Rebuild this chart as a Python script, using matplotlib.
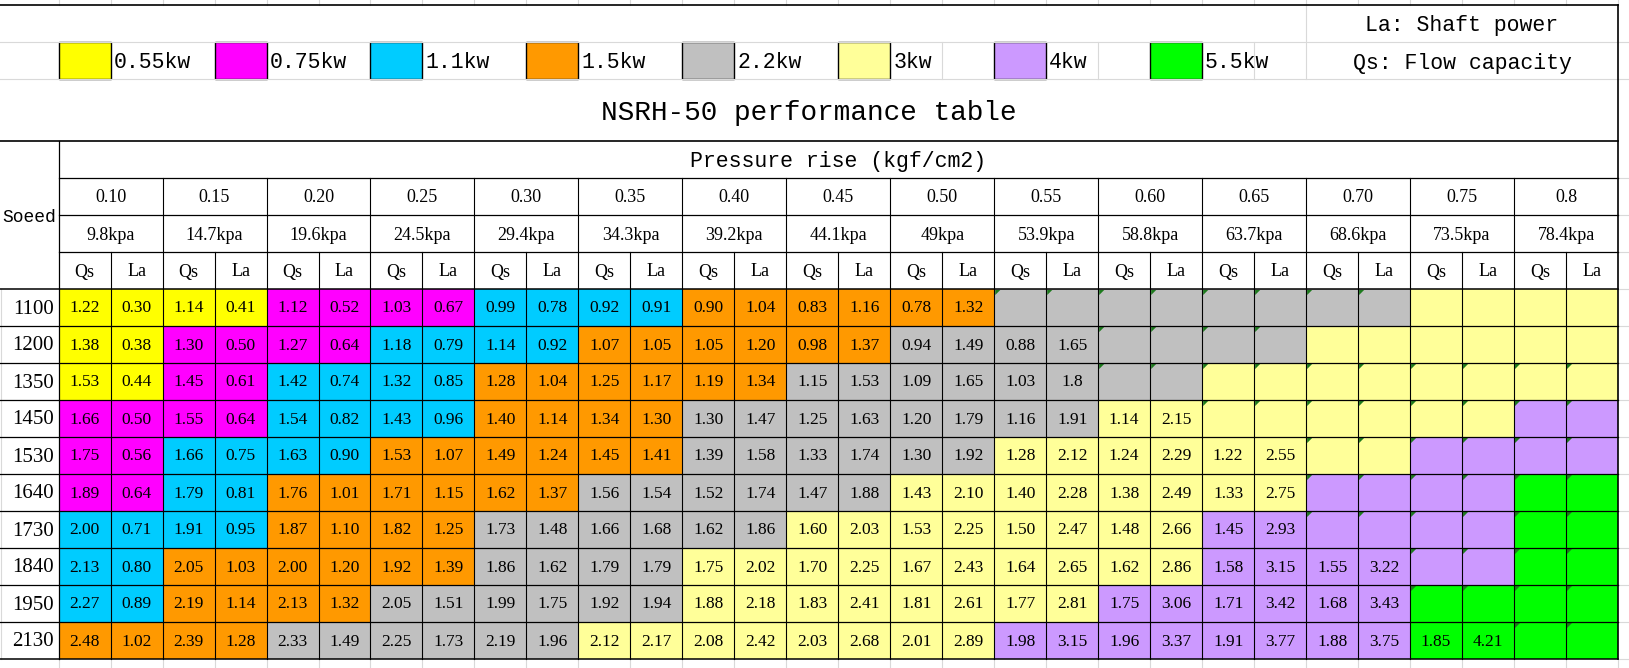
import numpy as np
import matplotlib
matplotlib.use("Agg")
import matplotlib.pyplot as plt
from matplotlib.patches import Rectangle, Polygon

pressures = ["0.10", "0.15", "0.20", "0.25", "0.30", "0.35", "0.40", "0.45",
             "0.50", "0.55", "0.60", "0.65", "0.70", "0.75", "0.8"]
kpa = ["9.8kpa", "14.7kpa", "19.6kpa", "24.5kpa", "29.4kpa", "34.3kpa", "39.2kpa",
       "44.1kpa", "49kpa", "53.9kpa", "58.8kpa", "63.7kpa", "68.6kpa", "73.5kpa", "78.4kpa"]
speeds = ["1100", "1200", "1350", "1450", "1530", "1640", "1730", "1840", "1950", "2130"]

# motor size for each (speed, pressure) pair
power_codes = [
    "YYMMCCOOOGGGGLL",
    "YMMCCOOOGGGGLLL",
    "YMCCOOOGGGGLLLL",
    "MMCCOOGGGGLLLLP",
    "MCCOOOGGGLLLLPP",
    "MCOOOGGGLLLLPPN",
    "CCOOGGGLLLLPPPN",
    "COOOGGLLLLLPPPN",
    "COOGGGLLLLPPPNN",
    "OOGGGLLLLPPPPNN",
]

qs = [
    ["1.22", "1.14", "1.12", "1.03", "0.99", "0.92", "0.90", "0.83", "0.78"],
    ["1.38", "1.30", "1.27", "1.18", "1.14", "1.07", "1.05", "0.98", "0.94", "0.88"],
    ["1.53", "1.45", "1.42", "1.32", "1.28", "1.25", "1.19", "1.15", "1.09", "1.03"],
    ["1.66", "1.55", "1.54", "1.43", "1.40", "1.34", "1.30", "1.25", "1.20", "1.16", "1.14"],
    ["1.75", "1.66", "1.63", "1.53", "1.49", "1.45", "1.39", "1.33", "1.30", "1.28", "1.24", "1.22"],
    ["1.89", "1.79", "1.76", "1.71", "1.62", "1.56", "1.52", "1.47", "1.43", "1.40", "1.38", "1.33"],
    ["2.00", "1.91", "1.87", "1.82", "1.73", "1.66", "1.62", "1.60", "1.53", "1.50", "1.48", "1.45"],
    ["2.13", "2.05", "2.00", "1.92", "1.86", "1.79", "1.75", "1.70", "1.67", "1.64", "1.62", "1.58", "1.55"],
    ["2.27", "2.19", "2.13", "2.05", "1.99", "1.92", "1.88", "1.83", "1.81", "1.77", "1.75", "1.71", "1.68"],
    ["2.48", "2.39", "2.33", "2.25", "2.19", "2.12", "2.08", "2.03", "2.01", "1.98", "1.96", "1.91", "1.88", "1.85"],
]
la = [
    ["0.30", "0.41", "0.52", "0.67", "0.78", "0.91", "1.04", "1.16", "1.32"],
    ["0.38", "0.50", "0.64", "0.79", "0.92", "1.05", "1.20", "1.37", "1.49", "1.65"],
    ["0.44", "0.61", "0.74", "0.85", "1.04", "1.17", "1.34", "1.53", "1.65", "1.8"],
    ["0.50", "0.64", "0.82", "0.96", "1.14", "1.30", "1.47", "1.63", "1.79", "1.91", "2.15"],
    ["0.56", "0.75", "0.90", "1.07", "1.24", "1.41", "1.58", "1.74", "1.92", "2.12", "2.29", "2.55"],
    ["0.64", "0.81", "1.01", "1.15", "1.37", "1.54", "1.74", "1.88", "2.10", "2.28", "2.49", "2.75"],
    ["0.71", "0.95", "1.10", "1.25", "1.48", "1.68", "1.86", "2.03", "2.25", "2.47", "2.66", "2.93"],
    ["0.80", "1.03", "1.20", "1.39", "1.62", "1.79", "2.02", "2.25", "2.43", "2.65", "2.86", "3.15", "3.22"],
    ["0.89", "1.14", "1.32", "1.51", "1.75", "1.94", "2.18", "2.41", "2.61", "2.81", "3.06", "3.42", "3.43"],
    ["1.02", "1.28", "1.49", "1.73", "1.96", "2.17", "2.42", "2.68", "2.89", "3.15", "3.37", "3.77", "3.75", "4.21"],
]

legend_codes = ["Y", "M", "C", "O", "G", "L", "P", "N"]
legend_labels = ["0.55kw", "0.75kw", "1.1kw", "1.5kw", "2.2kw", "3kw", "4kw", "5.5kw"]
fill = {"Y": "#FFFF00", "M": "#FF00FF", "C": "#00CCFF", "O": "#FF9900",
        "G": "#C0C0C0", "L": "#FFFF99", "P": "#CC99FF", "N": "#00FF00"}

# ---- layout (pixels) ----
W, H = 1629, 668
x0, x1 = 58.6, 1618
ncol = 2 * len(pressures)
cw = (x1 - x0) / ncol
y_top, y_leg0, y_leg1, y_title, y_pr, y_p, y_k, y_data = 5, 42, 79, 141, 178, 215, 252, 289
rh = 37
y_end = y_data + rh * len(speeds)

mono = "Liberation Mono"
serif = "Liberation Serif"

fig = plt.figure(figsize=(W / 100, H / 100), dpi=100)
ax = fig.add_axes([0, 0, 1, 1])
ax.set_xlim(0, W)
ax.set_ylim(H, 0)
ax.axis("off")

faint = "#D9D9D9"
edges = x0 + cw * np.arange(ncol + 1)
# excel gridline stubs outside the table
for xe in edges:
    ax.plot([xe, xe], [0, y_top], color=faint, lw=0.8)
    ax.plot([xe, xe], [y_end, H], color=faint, lw=0.8)
for ye in [y_leg0, y_leg1] + [y_data + rh * i for i in range(len(speeds) + 1)] + [y_pr, y_p, y_k]:
    ax.plot([x1, W], [ye, ye], color=faint, lw=0.8)
ax.plot([0, x1], [y_leg0, y_leg0], color=faint, lw=0.8)
ax.plot([0, x1], [y_leg1, y_leg1], color=faint, lw=0.8)
ax.plot([1, 1], [y_data, y_end], color=faint, lw=0.8)
x_note = x0 + cw * 24
ax.plot([x_note, x_note], [y_top, y_leg1], color=faint, lw=0.8)
for k in [17, 20, 23]:
    ax.plot([edges[k], edges[k]], [y_leg0, y_leg1], color=faint, lw=0.8)

# legend
for i, (code, lab) in enumerate(zip(legend_codes, legend_labels)):
    bx = x0 + cw * 3 * i
    ax.add_patch(Rectangle((bx, y_leg0), cw, y_leg1 - y_leg0, facecolor=fill[code],
                           edgecolor="black", lw=1.0))
    ax.text(bx + cw + 3, 63, lab, fontsize=15.5, family=mono, ha="left", va="center")

ax.text((x_note + x1) / 2, 26, "La: Shaft power", fontsize=15.5, family=mono, ha="center", va="center")
ax.text((x_note + x1) / 2, 64, "Qs: Flow capacity", fontsize=15.5, family=mono, ha="center", va="center")
ax.text(x1 / 2, 113, "NSRH-50 performance table", fontsize=20, family=mono, ha="center", va="center")

# header
ax.text((x0 + x1) / 2, 162, "Pressure rise (kgf/cm2)", fontsize=15.5, family=mono, ha="center", va="center")
ax.text(29.5, 217, "Soeed", fontsize=13, family=mono, ha="center", va="center")
for j, (p, k) in enumerate(zip(pressures, kpa)):
    cx = x0 + cw * (2 * j + 1)
    ax.text(cx, 198, p, fontsize=13, family=serif, ha="center", va="center")
    ax.text(cx, 235, k, fontsize=13, family=serif, ha="center", va="center")
    ax.text(cx - cw / 2, 272, "Qs", fontsize=13, family=serif, ha="center", va="center")
    ax.text(cx + cw / 2, 272, "La", fontsize=13, family=serif, ha="center", va="center")

# data cells
for r, spd in enumerate(speeds):
    yt = y_data + rh * r
    ax.text(54, yt + rh / 2 + 1.5, spd, fontsize=15, family=serif, ha="right", va="center")
    for j, code in enumerate(power_codes[r]):
        for s, vals in enumerate((qs[r], la[r])):
            c = 2 * j + s
            xl = x0 + cw * c
            ax.add_patch(Rectangle((xl, yt), cw, rh, facecolor=fill[code], edgecolor="none"))
            if j < len(vals):
                ax.text(xl + cw / 2, yt + rh / 2 + 1, vals[j], fontsize=12.5, family=serif,
                        ha="center", va="center")
            elif not (r < 2 and code == "L"):
                ax.add_patch(Polygon([(xl + 1, yt + 1), (xl + 6, yt + 1), (xl + 1, yt + 6)],
                                     closed=True, facecolor="#1E7B1E", edgecolor="none"))

# grid lines
blk = "black"
ax.plot([0, x1], [y_top, y_top], color=blk, lw=1.2)
ax.plot([0, x1], [y_title, y_title], color=blk, lw=1.2)
ax.plot([x1, x1], [y_top, y_end], color=blk, lw=1.2)
for ye in [y_pr, y_p, y_k]:
    ax.plot([x0, x1], [ye, ye], color=blk, lw=0.9)
for i in range(len(speeds) + 1):
    ye = y_data + rh * i
    ax.plot([0, x1], [ye, ye], color=blk, lw=1.1 if i in (0, len(speeds)) else 0.9)
ax.plot([x0, x0], [y_title, y_end], color=blk, lw=0.9)
for c in range(1, ncol):
    ytop = y_pr if c % 2 == 0 else y_k
    ax.plot([edges[c], edges[c]], [ytop, y_end], color=blk, lw=0.8)

fig.savefig("out.png", dpi=100)
